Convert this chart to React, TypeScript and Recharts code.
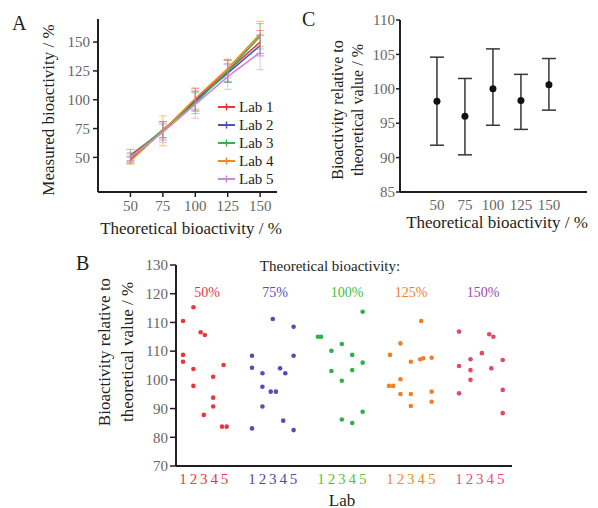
import React from 'react';
import { LineChart, Line, XAxis, YAxis, ErrorBar, Legend, ScatterChart, Scatter } from 'recharts';

const FONT = '"Liberation Serif", "Times New Roman", serif';
const INK = '#231f20';

// ---- Panel A: measured vs theoretical, one line per lab ----
const theoretical = [50, 75, 100, 125, 150];
const labNames = ['Lab 1', 'Lab 2', 'Lab 3', 'Lab 4', 'Lab 5'];
const labColors = ['#e8383d', '#4f4fc4', '#35b34a', '#f7861f', '#c58ad8'];
const lab1 = [52, 73, 100, 125, 150];
const lab2 = [48, 73, 99, 123, 147];
const lab3 = [50, 74, 97, 125, 155];
const lab4 = [47, 73, 101, 127, 157];
const lab5 = [50, 72, 96, 120, 141];
const lab1Err = [5, 8, 10, 9, 10];
const lab2Err = [3, 6, 8, 8, 9];
const lab3Err = [4, 7, 9, 10, 11];
const lab4Err = [3, 13, 9, 8, 11];
const lab5Err = [3, 9, 12, 11, 15];
const yTicksA = [50, 75, 100, 125, 150];

// ---- Panel C: mean relative bioactivity with error bars ----
const cMeans = [98.2, 96.0, 100.0, 98.3, 100.6];
const cErrLow = [6.4, 5.6, 5.3, 4.2, 3.7];
const cErrHigh = [6.4, 5.5, 5.8, 3.8, 3.8];
const yTicksC = [85, 90, 95, 100, 105, 110];

// ---- Panel B: individual results per lab, grouped by theoretical level ----
// [lab position (with small jitter), relative bioactivity]
const grp50 = [[1, 120.5], [1, 108.7], [1, 106.3], [2, 125.3], [2, 103.8], [2, 97.9], [2.7, 116.6], [3.1, 115.6], [3, 87.8], [3.9, 101.1], [3.9, 93.8], [3.9, 90.7], [4.9, 105.2], [4.75, 83.7], [5.2, 83.7]];
const grp75 = [[1, 108.4], [1, 104.2], [1, 83.1], [2, 102.3], [2, 97.6], [2, 90.7], [2.8, 95.9], [3.3, 95.9], [3, 121.2], [3.7, 104.0], [4.2, 102.3], [4, 85.8], [5, 118.5], [5, 108.4], [5, 82.5]];
const grp100 = [[0.7, 115.0], [1, 115.0], [2, 110.1], [2, 103.1], [3, 112.5], [3, 99.7], [3, 86.2], [4, 108.7], [4, 103.4], [4, 85.0], [5, 123.7], [5, 106.0], [5, 88.9]];
const grp125 = [[1, 108.7], [0.9, 97.9], [1.3, 97.9], [2, 112.7], [2, 100.2], [2, 95.1], [3, 106.3], [3, 95.1], [3, 90.9], [4, 120.5], [3.9, 107.2], [4.2, 107.5], [5, 107.7], [5, 95.9], [5, 92.4]];
const grp150 = [[1, 116.8], [1, 104.8], [1, 95.3], [2.1, 107.2], [2.1, 103.4], [2.1, 100.0], [3.2, 109.3], [3.9, 115.9], [4.3, 115.0], [4.1, 104.0], [5.2, 106.9], [5.2, 96.5], [5.2, 88.4]];
const groups = [grp50, grp75, grp100, grp125, grp150];
const groupLabels = ['50%', '75%', '100%', '125%', '150%'];
const groupLabelColors = ['#e5393b', '#5552b8', '#3cbf3a', '#f08030', '#a444b4'];
const pointColors = ['#e8383d', '#5050b4', '#2fb04a', '#f07f2a', '#e6485e'];
const tickColors = ['#e8383d', '#4a4ab0', '#5cbf4a', '#f08a30', '#e8507a'];
const labTicks = ['1', '2', '3', '4', '5'];
const yTickLabelsB = ['70', '80', '90', '100', '110', '110', '120', '130'];
const yTicksB = [70, 80, 90, 100, 110, 120, 130, 140];
const GAP = 6.635;

const labSeries = [lab1, lab2, lab3, lab4, lab5];
const labErrs = [lab1Err, lab2Err, lab3Err, lab4Err, lab5Err];
const rowsA = theoretical.map((x, i) => {
  const row: Record<string, number> = { x };
  labSeries.forEach((s, k) => {
    row[`lab${k + 1}`] = s[i];
    row[`lab${k + 1}Err`] = labErrs[k][i];
  });
  return row;
});

const rowsC = theoretical.map((x, i) => ({ x, y: cMeans[i], err: [cErrLow[i], cErrHigh[i]] }));

const axisLine = { stroke: INK, strokeWidth: 2 };

// tick renderer so the serif font is applied for sure
const SerifTick = (props: any) => {
  const { x, y, payload, textAnchor, orientation, fontSize = 15, fill = INK, tickFormatter } = props;
  const label = tickFormatter ? tickFormatter(payload.value) : payload.value;
  const dy = orientation === 'bottom' ? '0.71em' : '0.35em';
  return (
    <text x={x} y={y} dy={dy} textAnchor={textAnchor} fill={fill} style={{ fontFamily: FONT, fontSize }}>
      {label}
    </text>
  );
};

const LegendA = () => (
  <div style={{ fontFamily: FONT, fontSize: 15, color: INK, lineHeight: '18px' }}>
    {labNames.map((name, i) => (
      <div key={name} style={{ display: 'flex', alignItems: 'center', height: 18 }}>
        <svg width={19} height={10} style={{ marginRight: 2 }}>
          <line x1={0} y1={5} x2={17} y2={5} stroke={labColors[i]} strokeWidth={2} />
          <line x1={8.5} y1={1.5} x2={8.5} y2={8.5} stroke={labColors[i]} strokeWidth={1.5} />
        </svg>
        <span>{name}</span>
      </div>
    ))}
  </div>
);

const PanelA = () => (
  <LineChart width={300} height={240} data={rowsA} margin={{ top: 19, right: 23, bottom: 28, left: 58 }}>
    <XAxis type="number" dataKey="x" domain={[25, 163]} ticks={theoretical} interval={0} height={20}
      axisLine={axisLine} tickLine={{ stroke: INK, strokeWidth: 1.5 }} tickSize={5} tickMargin={3}
      tick={(p: any) => <SerifTick {...p} orientation="bottom" fontSize={15} />} />
    <YAxis type="number" domain={[20, 170]} ticks={yTicksA} interval={0} width={40}
      axisLine={axisLine} tickLine={{ stroke: INK, strokeWidth: 1.5 }} tickSize={5} tickMargin={3}
      tick={(p: any) => <SerifTick {...p} orientation="left" fontSize={15} />} />
    {labSeries.map((_, k) => (
      <Line key={k} type="linear" dataKey={`lab${k + 1}`} stroke={labColors[k]} strokeWidth={1.6}
        dot={false} isAnimationActive={false}>
        <ErrorBar dataKey={`lab${k + 1}Err`} direction="y" width={4} stroke={labColors[k]} strokeWidth={1} strokeOpacity={0.5} />
      </Line>
    ))}
    <Legend layout="horizontal" verticalAlign="middle" align="center" content={<LegendA />}
      wrapperStyle={{ left: 218, top: 98, width: 80 }} />
  </LineChart>
);

const PanelC = () => (
  <ScatterChart width={298} height={240} margin={{ top: 20, right: 11, bottom: 28, left: 60 }}>
    <XAxis type="number" dataKey="x" domain={[17, 184]} ticks={theoretical} interval={0} height={20}
      axisLine={axisLine} tickLine={false} tickSize={6} tickMargin={1}
      tick={(p: any) => <SerifTick {...p} orientation="bottom" fontSize={15} />} />
    <YAxis type="number" dataKey="y" domain={[85, 110]} ticks={yTicksC} interval={0} width={40}
      axisLine={axisLine} tickLine={{ stroke: INK, strokeWidth: 1.5 }} tickSize={4} tickMargin={1}
      tick={(p: any) => <SerifTick {...p} orientation="left" fontSize={15} />} />
    <Scatter data={rowsC} fill="#111" isAnimationActive={false}
      shape={(p: any) => <circle cx={p.cx} cy={p.cy} r={3.5} fill="#111" />}>
      <ErrorBar dataKey="err" direction="y" width={7} stroke="#3a3533" strokeWidth={1.5} />
    </Scatter>
  </ScatterChart>
);

const labTickPositions = groups.flatMap((_, g) => labTicks.map((_, l) => g * GAP + l + 1));

const BTick = (props: any) => {
  const { x, y, payload } = props;
  const idx = labTickPositions.findIndex((v) => Math.abs(v - payload.value) < 1e-6);
  const g = Math.floor(idx / 5);
  return (
    <text x={x} y={y} dy="0.71em" textAnchor="middle" fill={tickColors[g]} style={{ fontFamily: FONT, fontSize: 15 }}>
      {labTicks[idx % 5]}
    </text>
  );
};

const PanelB = () => (
  <ScatterChart width={598} height={258} margin={{ top: 15, right: 86, bottom: 22, left: 136 }}>
    <XAxis type="number" dataKey="x" domain={[0.327, 32.63]} ticks={labTickPositions} interval={0} height={20}
      axisLine={axisLine} tickLine={false} tickSize={6} tickMargin={1} tick={(p: any) => <BTick {...p} />} />
    <YAxis type="number" dataKey="y" domain={[70, 140]} ticks={yTicksB} interval={0} width={40}
      axisLine={axisLine} tickLine={{ stroke: INK, strokeWidth: 1.5 }} tickSize={6} tickMargin={2}
      tick={(p: any) => (
        <SerifTick {...p} orientation="left" fontSize={15}
          tickFormatter={(v: number) => yTickLabelsB[yTicksB.indexOf(v)]} />
      )} />
    {groups.map((pts, g) => (
      <Scatter key={g} data={pts.map(([lab, v]) => ({ x: g * GAP + lab, y: v }))} fill={pointColors[g]}
        isAnimationActive={false}
        shape={(p: any) => <circle cx={p.cx} cy={p.cy} r={2.3} fill={pointColors[g]} />} />
    ))}
  </ScatterChart>
);

const groupLabelX = [207, 275, 347, 411, 483];

export default function App() {
  return (
    <div style={{ position: 'absolute', left: 0, top: 0, width: 598, height: 508, background: '#fff', fontFamily: FONT }}>
      <div style={{ position: 'absolute', left: 0, top: 0 }}><PanelA /></div>
      <div style={{ position: 'absolute', left: 300, top: 0 }}><PanelC /></div>
      <div style={{ position: 'absolute', left: 0, top: 250 }}><PanelB /></div>
      <svg width={598} height={508} style={{ position: 'absolute', left: 0, top: 0, pointerEvents: 'none', fontFamily: FONT }}
        fill={INK}>
        <text x={12} y={30} fontSize={20}>A</text>
        <text transform="translate(48,110) rotate(-90)" textAnchor="middle" dominantBaseline="central" fontSize={17}>Measured bioactivity / %</text>
        <text x={191} y={228} textAnchor="middle" dominantBaseline="central" fontSize={17}>Theoretical bioactivity / %</text>

        <text x={302} y={26} fontSize={20}>C</text>
        <text transform="translate(337,110) rotate(-90)" textAnchor="middle" dominantBaseline="central" fontSize={16}>Bioactivity relative to</text>
        <text transform="translate(357,110) rotate(-90)" textAnchor="middle" dominantBaseline="central" fontSize={16}>theoretical value / %</text>
        <text x={497} y={222} textAnchor="middle" dominantBaseline="central" fontSize={17}>Theoretical bioactivity / %</text>

        <text x={76} y={270} fontSize={20}>B</text>
        <text transform="translate(104,352) rotate(-90)" textAnchor="middle" dominantBaseline="central" fontSize={17}>Bioactivity relative to</text>
        <text transform="translate(127,352) rotate(-90)" textAnchor="middle" dominantBaseline="central" fontSize={17}>theoretical value / %</text>
        <text x={330} y={266} textAnchor="middle" dominantBaseline="central" fontSize={15}>Theoretical bioactivity:</text>
        {groupLabels.map((t, i) => (
          <text key={t} x={groupLabelX[i]} y={292} textAnchor="middle" dominantBaseline="central" fontSize={14}
            fill={groupLabelColors[i]}>{t}</text>
        ))}
        <text x={342} y={500} textAnchor="middle" dominantBaseline="central" fontSize={17}>Lab</text>
      </svg>
    </div>
  );
}
